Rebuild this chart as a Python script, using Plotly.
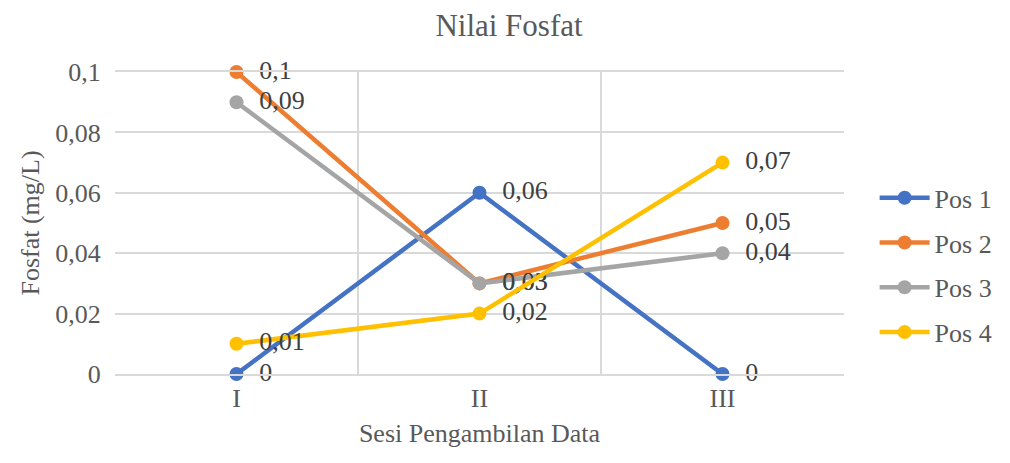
import plotly.graph_objects as go

sesi = ["I", "II", "III"]
pos_1 = [0, 0.06, 0]
pos_2 = [0.1, 0.03, 0.05]
pos_3 = [0.09, 0.03, 0.04]
pos_4 = [0.01, 0.02, 0.07]

series = {"Pos 1": pos_1, "Pos 2": pos_2, "Pos 3": pos_3, "Pos 4": pos_4}
colors = ["#4472C4", "#ED7D31", "#A5A5A5", "#FFC000"]
font_name = "Times New Roman, Liberation Serif, serif"
grey_txt = "#595959"


def fmt(v):
    return f"{v:g}".replace(".", ",")


fig = go.Figure()
for (name, vals), col in zip(series.items(), colors):
    fig.add_trace(go.Scatter(
        x=sesi, y=vals, name=name, legendgroup=name,
        mode="lines+markers+text",
        line=dict(color=col, width=4.5),
        marker=dict(color=col, size=14),
        text=["  " + fmt(v) for v in vals],
        textposition="middle right",
        textfont=dict(family=font_name, size=26, color="#404040"),
        cliponaxis=False,
    ))

# page has an 8px body margin, so the figure is a bit smaller than the window
fig.update_layout(
    width=1002, height=455,
    margin=dict(l=107, r=163, t=64, b=89),
    paper_bgcolor="white", plot_bgcolor="white",
    separators=", ",
    font=dict(family=font_name, size=26, color=grey_txt),
    title=dict(text="Nilai Fosfat", x=0.5, xref="container", y=0.962,
               xanchor="center", yanchor="middle",
               font=dict(family=font_name, size=31, color=grey_txt)),
    legend=dict(x=1.042, xanchor="left", y=0.36, yanchor="middle",
                itemwidth=50, tracegroupgap=8,
                font=dict(size=26, color=grey_txt)),
    showlegend=True,
)
fig.update_xaxes(
    type="category", range=[-0.5, 2.5], tickson="boundaries",
    showgrid=True, gridcolor="#D9D9D9", gridwidth=1.5,
    showline=True, linecolor="#D9D9D9", linewidth=1.5,
    ticks="", ticklen=0,
    tickfont=dict(size=26),
    title=dict(text="Sesi Pengambilan Data", standoff=12, font=dict(size=26)),
    mirror=True,
)
fig.update_yaxes(
    range=[0, 0.1], dtick=0.02,
    showgrid=True, gridcolor="#D9D9D9", gridwidth=1.5,
    zeroline=False, showline=False,
    tickfont=dict(size=26), ticks="outside", ticklen=8, tickcolor="white",
    title=dict(text="Fosfat (mg/L)", standoff=8, font=dict(size=26)),
)

fig.write_html("out.html")
